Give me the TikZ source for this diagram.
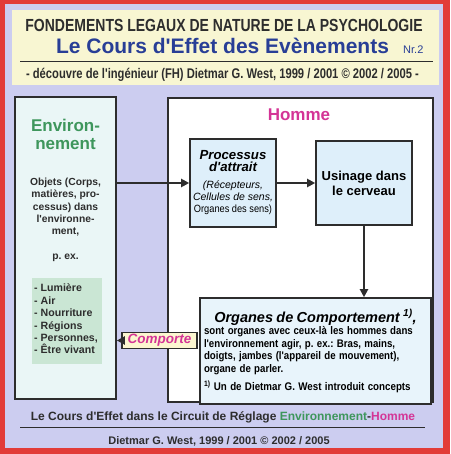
\documentclass[tikz,border=0pt]{standalone}
\usepackage{fontspec}
\setmainfont{Liberation Sans}[Ligatures=TeXOff]
\newfontfamily\narrowfont{Liberation Sans}[FakeStretch=0.8, Ligatures=TeXOff]
\newfontfamily\bodyfont{Liberation Sans}[FakeStretch=0.88, Ligatures=TeXOff]
\frenchspacing
\usetikzlibrary{arrows.meta, positioning}
\definecolor{framered}{RGB}{226,60,56}
\definecolor{lavender}{RGB}{204,205,240}
\definecolor{paleyellow}{RGB}{248,246,210}
\definecolor{envfill}{RGB}{234,246,246}
\definecolor{listgreen}{RGB}{202,230,212}
\definecolor{envgreen}{RGB}{62,150,92}
\definecolor{hommepink}{RGB}{212,52,150}
\definecolor{titleblue}{RGB}{40,62,150}
\definecolor{procfill}{RGB}{222,239,250}
\definecolor{tagfill}{RGB}{252,246,208}
\definecolor{ink}{RGB}{45,45,45}

\begin{document}
\begin{tikzpicture}[
    x=1pt, y=-1pt,
    box/.style={rectangle, draw=ink, line width=1.6pt, inner sep=0pt, align=center},
    arrow/.style={-{Triangle[length=8pt,width=8pt]}, line width=2.2pt, draw=ink},
    txt/.style={inner sep=0pt, align=center, text=ink}
]
\useasboundingbox (0,0) rectangle (450,454);
\fill[framered] (0,0) rectangle (450,454);
\fill[lavender] (5,4) rectangle (443,448);

% Header
\node[fill=paleyellow, minimum width=427pt, minimum height=75pt, inner sep=0pt] (header) at (225.5,47.5) {};
\draw[ink, line width=1pt] (20,62) -- (433,62);
\node[txt, anchor=base, font=\narrowfont\bfseries\fontsize{17.5}{18}\selectfont] (title) at (224,31.5) {FONDEMENTS LEGAUX DE NATURE DE LA PSYCHOLOGIE};
\node[txt, anchor=base, text=titleblue, font=\bfseries\fontsize{21}{22}\selectfont] (subtitle) at (222.5,53.5) {Le Cours d'Effet des Evènements};
\node[txt, anchor=base west, text=titleblue, font=\fontsize{11}{12}\selectfont] (nr) at (403,53.5) {Nr.2};
\node[txt, anchor=base, font=\narrowfont\bfseries\fontsize{14}{15}\selectfont] (credit) at (222.5,79) {- découvre de l'ingénieur (FH) Dietmar G. West, 1999 / 2001 © 2002 / 2005 -};

% Environnement
\node[box, fill=envfill, minimum width=101pt, minimum height=302pt] (env) at (65.5,248) {};
\node[txt, anchor=north, text=envgreen, font=\bfseries\fontsize{17}{17.5}\selectfont] (envtitle) at (65.5,119) {Environ-\\nement};
\node[txt, anchor=north, font=\bfseries\fontsize{10.3}{12.3}\selectfont] (objets) at (65.5,178) {Objets (Corps,\\matières, pro-\\cessus) dans\\l'environne-\\ment,};
\node[txt, anchor=base, font=\bfseries\fontsize{10.3}{12.3}\selectfont] (pex) at (65.5,259) {p. ex.};
\node[fill=listgreen, minimum width=70pt, minimum height=86pt, inner sep=0pt] (liste) at (67,321) {};
\node[txt, anchor=north west, align=left, font=\bfseries\fontsize{10.6}{12.4}\selectfont] (items) at (34,284) {- Lumière\\- Air\\- Nourriture\\- Régions\\- Personnes,\\- Être vivant};

% Homme
\node[box, fill=white, minimum width=265pt, minimum height=304pt] (homme) at (300.5,250) {};
\node[txt, text=hommepink, font=\bfseries\fontsize{17}{17.5}\selectfont] (hommetitle) at (299,115) {Homme};
\node[box, fill=procfill, minimum width=86pt, minimum height=88pt] (proc) at (233,183) {%
  \bfseries\itshape\fontsize{13.2}{15}\selectfont Processus\\
  \bfseries\itshape\fontsize{13.2}{15}\selectfont d'attrait\\[5pt]
  \itshape\fontsize{10.5}{12.5}\selectfont (Récepteurs,\\
  \itshape\fontsize{10.5}{12.5}\selectfont Cellules de sens,\\
  \bodyfont\fontsize{10.5}{12.5}\selectfont Organes des sens)};
\node[box, fill=procfill, minimum width=96pt, minimum height=84pt, font=\bfseries\fontsize{13}{15}\selectfont] (usin) at (364,183) {Usinage dans\\le cerveau};
\node[box, fill=procfill!70, minimum width=231pt, minimum height=106pt, text width=223pt, align=left, inner xsep=4pt] (org) at (315.5,351) {%
  \centerline{\bfseries\itshape\fontsize{14.5}{16}\selectfont Organes de Comportement \textsuperscript{1)},}
  {\bodyfont\bfseries\fontsize{11}{12.5}\selectfont sont organes avec ceux-là les hommes dans\newline
  l'environnement agir, p. ex.: Bras, mains,\newline
  doigts, jambes (l'appareil de mouvement),\newline
  organe de parler.\par}
  \vspace{5pt}
  {\bodyfont\bfseries\fontsize{11.1}{13}\selectfont \mbox{\textsuperscript{1)} Un de Dietmar G. West introduit concepts}\par}};

\draw[arrow] (env.east |- proc.west) -- (proc.west);
\draw[arrow] (proc.east) -- (usin.west);
\draw[arrow] (usin.south) -- (usin.south |- org.north);

% Comporte tag
\node[box, fill=tagfill, minimum width=75pt, minimum height=16pt, text=hommepink, font=\bfseries\itshape\fontsize{13.5}{14}\selectfont] (comp) at (159.5,340.5) {Comporte};
\draw[arrow] (comp.west) -- (comp.west -| env.east);

% Footer
\node[txt, anchor=base, font=\bfseries\fontsize{12}{13}\selectfont] (footer) at (223,420) {Le Cours d'Effet dans le Circuit de Réglage \textcolor{envgreen}{Environnement}-\textcolor{hommepink}{Homme}};
\draw[ink, line width=0.8pt] (20,427) -- (425,427);
\node[txt, anchor=base, font=\bfseries\fontsize{11}{12}\selectfont] (signature) at (219,444) {Dietmar G. West, 1999 / 2001 © 2002 / 2005};

\end{tikzpicture}
\end{document}
